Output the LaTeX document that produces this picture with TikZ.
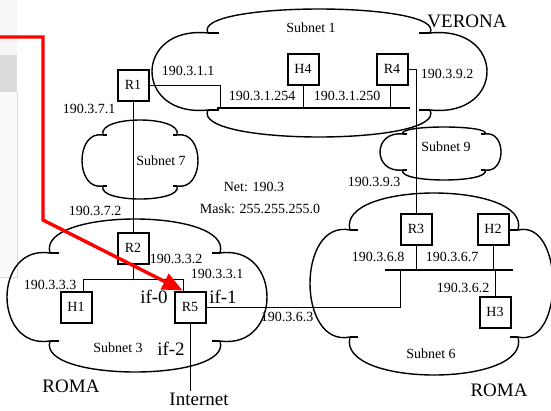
\documentclass[tikz,border=0pt]{standalone}
\usepackage{fontspec}
\setmainfont{Liberation Serif}
\usetikzlibrary{arrows.meta}
\definecolor{netred}{HTML}{FF0000}
% #1 left, #2/#3 notch x, #4 right, #5 top, #6/#7 notch y, #8 bottom
\newcommand{\subnetcloud}[8]{%
  \draw[cloudline] (#2,#6)
    .. controls ({#2-0.08*(#3-#2)},{#6+(#5-#6)/0.75}) and ({#3+0.08*(#3-#2)},{#6+(#5-#6)/0.75}) .. (#3,#6)
    .. controls ({#3+(#4-#3)/0.75},{#6-0.1*(#7-#6)}) and ({#3+(#4-#3)/0.75},{#7+0.1*(#7-#6)}) .. (#3,#7)
    .. controls ({#3+0.08*(#3-#2)},{#7+(#8-#7)/0.75}) and ({#2-0.08*(#3-#2)},{#7+(#8-#7)/0.75}) .. (#2,#7)
    .. controls ({#2-(#2-#1)/0.75},{#7+0.1*(#7-#6)}) and ({#2-(#2-#1)/0.75},{#6-0.1*(#7-#6)}) .. (#2,#6);
  \draw[cloudline] (#2,#6) -- ({#2+0.05*(#3-#2)},#6) (#3,#6) -- ({#3-0.05*(#3-#2)},#6)
    (#2,#7) -- ({#2+0.05*(#3-#2)},#7) (#3,#7) -- ({#3-0.05*(#3-#2)},#7);}

\begin{document}
\begin{tikzpicture}[x=1pt, y=-1pt,
  every node/.style={font=\fontsize{14}{16}\selectfont, inner sep=1pt},
  host/.style={draw, line width=2pt, fill=white, minimum width=31pt,
               minimum height=31pt, inner sep=0pt},
  bigtext/.style={font=\fontsize{19}{22}\selectfont},
  link/.style={line width=1pt},
  bus/.style={line width=2pt},
  cloudline/.style={line width=1.4pt},
  redarrow/.style={draw=netred, line width=3.4pt, -{Triangle[length=20pt,width=17pt]}}
]
\useasboundingbox (0,0) rectangle (551,410);
% screenshot strip on the left
\fill[gray!7] (0,0) rectangle (17,55);
\fill[gray!28] (0,55) rectangle (17,92);
\fill[gray!4] (0,92) rectangle (17,277);
\draw[gray!30, line width=0.7pt] (17,92) -- (17,277) -- (0,277);

% subnets
\subnetcloud{152}{208}{430}{487}{9}{33}{110}{137}
\subnetcloud{82}{103}{177}{198}{120}{135}{186}{199}
\subnetcloud{380}{403}{485}{501}{127}{134}{170}{180}
\subnetcloud{7}{50}{220}{267}{219}{253}{341}{372}
\subnetcloud{310}{350}{518}{553}{193}{230}{337}{375}

% routers and hosts
\node[host] (R1) at (133,85) {R1};
\node[host] (H4) at (303,69) {H4};
\node[host] (R4) at (392,69) {R4};
\node[host] (R2) at (133,248) {R2};
\node[host] (H1) at (76,307) {H1};
\node[host] (R5) at (190,307) {R5};
\node[host] (R3) at (416,229) {R3};
\node[host] (H2) at (493,229) {H2};
\node[host] (H3) at (495,312) {H3};
\node[bigtext] (inet) at (199,399) {Internet};

\coordinate (bus1w) at (217,108);
\coordinate (bus1e) at (410,108);
\coordinate (tap1) at (220,108);
\coordinate (lan3w) at (83,279);
\coordinate (lan3e) at (183,279);
\coordinate (bus6w) at (385,270);
\coordinate (bus6e) at (513,270);
\coordinate (tap6) at (400,270);

\draw[bus] (bus1w) -- (bus1e);
\draw[link] (R1.east) -| (tap1);
\draw[link] (H4.south) -- (H4.south |- bus1w);
\draw[link] ([xshift=-2pt]R4.south) -- ([xshift=-2pt]R4.south |- bus1w);
\draw[link] (R4.east) -| (R3.north);
\draw[link] (R1.south) -- (R2.north);
\draw[link] (R2.south) -- (R2.south |- lan3w);
\draw[link] (lan3w |- H1.north) -- (lan3w) -- (lan3e) -- (lan3e |- R5.north);
\draw[link] (R5.east) -| (tap6);
\draw[link] (R5.south) -- (R5.south |- inet.north);
\draw[bus] (bus6w) -- (bus6e);
\draw[link] (R3.south) -- (R3.south |- bus6w);
\draw[link] (H2.south) -- (H2.south |- bus6w);
\draw[link] (H3.north) -- (H3.north |- bus6w);

% addresses
\node (ip311) at (188,71) {190.3.1.1};
\node (ip31254) at (262,96) {190.3.1.254};
\node (ip31250) at (347,96) {190.3.1.250};
\node (ip392) at (447,74) {190.3.9.2};
\node (ip371) at (89,109) {190.3.7.1};
\node (ip372) at (95,211) {190.3.7.2};
\node (ip393) at (374,182) {190.3.9.3};
\node (ip333) at (50,285) {190.3.3.3};
\node (ip332) at (176,259) {190.3.3.2};
\node (ip331) at (217,274) {190.3.3.1};
\node (ip363) at (287,317) {190.3.6.3};
\node (ip368) at (378,257) {190.3.6.8};
\node (ip367) at (452,257) {190.3.6.7};
\node (ip362) at (463,288) {190.3.6.2};

\node (sub1) at (311,28) {Subnet 1};
\node (sub7) at (161,161) {Subnet 7};
\node (sub9) at (446,147) {Subnet 9};
\node (sub3) at (118,348) {Subnet 3};
\node (sub6) at (431,354) {Subnet 6};
\node (net) at (254,187) {Net: 190.3};
\node (mask) at (260,209) {Mask: 255.255.255.0};

\node[bigtext] (verona) at (467,21) {VERONA};
\node[bigtext] (romaw) at (71,386) {ROMA};
\node[bigtext] (romae) at (499,390) {ROMA};
\node[bigtext] (if0) at (154,297) {if-0};
\node[bigtext] (if1) at (223,297) {if-1};
\node[bigtext] (if2) at (171,349) {if-2};

% pointer
\coordinate (redin) at (0,37);
\coordinate (redbend1) at (43,37);
\coordinate (redbend2) at (43,220);
\draw[redarrow] (redin) -- (redbend1) -- (redbend2) -- ([xshift=9pt]R5.north west);
\end{tikzpicture}
\end{document}
